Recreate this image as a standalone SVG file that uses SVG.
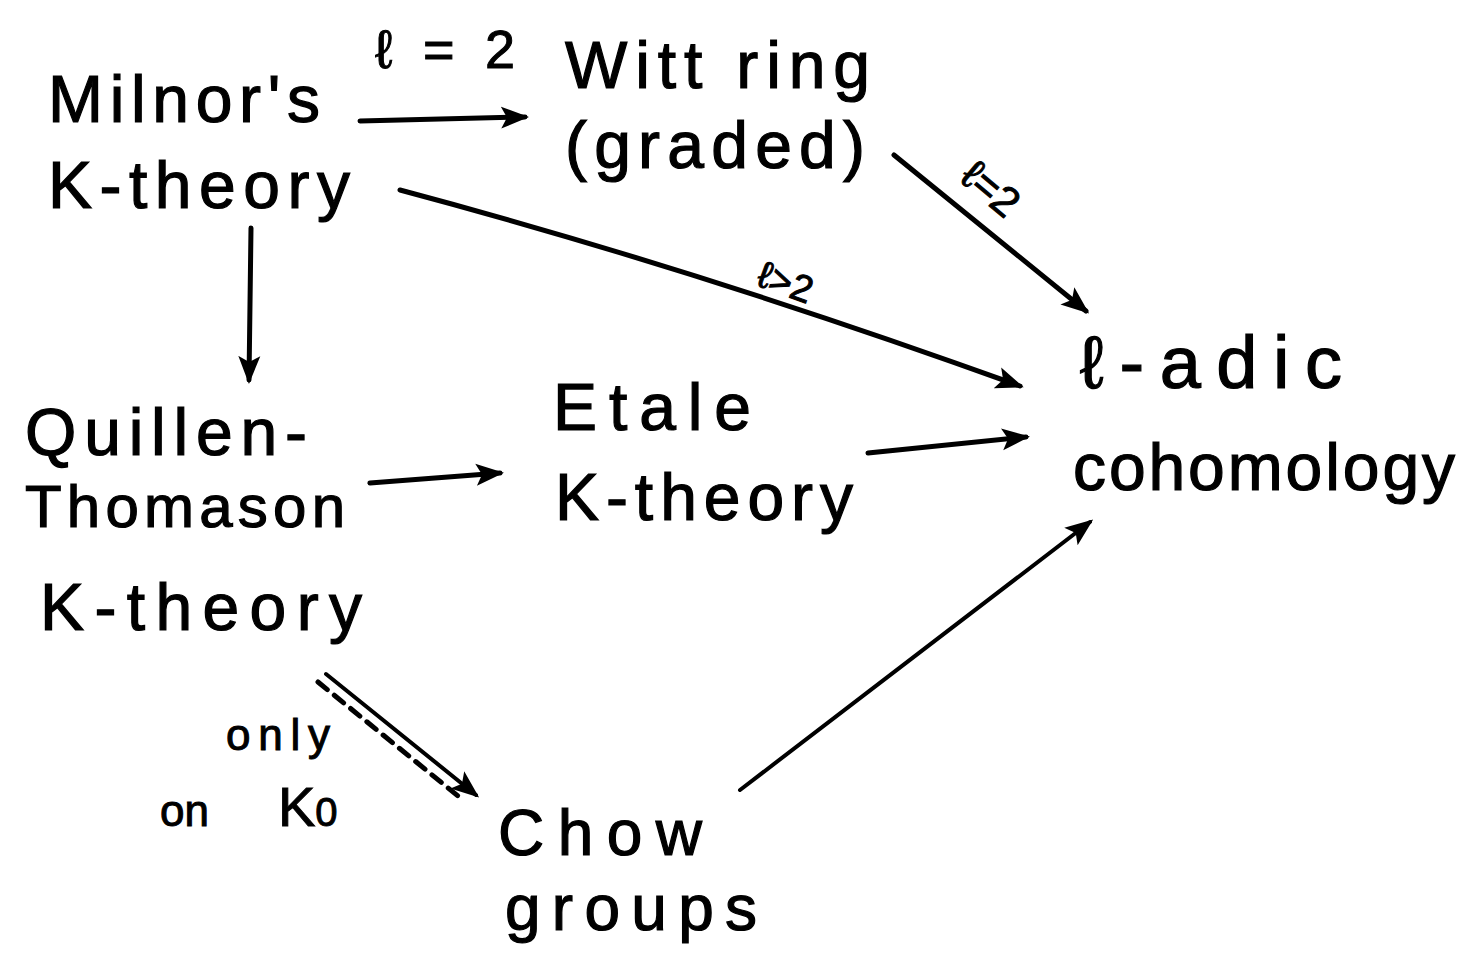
<svg xmlns="http://www.w3.org/2000/svg" width="1476" height="973" viewBox="0 0 1476 973">
  <style>
    .t { font-family: "Liberation Sans", "DejaVu Sans", sans-serif; fill: #000; stroke: #000; stroke-width: 1.2px; font-size: 66px; }
    .lab { font-family: "Liberation Sans", "DejaVu Sans", sans-serif; fill: #000; stroke: #000; stroke-width: 1px; font-size: 44px; }
    .edge { stroke: #000; stroke-width: 5; fill: none; stroke-linecap: round; marker-end: url(#head); }
    .thin { stroke-width: 4; }
    .dash { stroke: #000; stroke-width: 5; fill: none; stroke-dasharray: 12 9; stroke-linecap: round; }
  </style>
  <defs>
    <marker id="head" markerUnits="userSpaceOnUse" markerWidth="28" markerHeight="24" viewBox="0 0 28 24" refX="24" refY="12" orient="auto">
      <path d="M0,1 L28,12 L0,23 L6,12 Z" fill="#000"/>
    </marker>
  </defs>
  <rect width="1476" height="973" fill="#fff"/>

  <!-- connectors and their labels -->
  <g id="connectors">
    <path class="edge" d="M360,121 L525,117"/>
    <path class="edge" d="M894,155 L1086,311"/>
    <path class="edge" d="M400,190 Q700,270 1020,386"/>
    <path class="edge" d="M251,228 L249,380"/>
    <path class="edge" d="M370,483 L500,473"/>
    <path class="edge" d="M868,453 L1026,437"/>
    <path class="edge thin" d="M740,790 L1090,522"/>
    <path class="edge thin" d="M326,674 L476,795"/>
    <path class="dash" d="M318,682 L458,796"/>
    <text class="lab" x="375" y="68" style="font-size:54px" textLength="140" lengthAdjust="spacing">ℓ = 2</text>
    <text class="lab" transform="translate(958,180) rotate(40)" style="font-size:42px">ℓ=2</text>
    <text class="lab" transform="translate(755,285) rotate(20)" style="font-size:38px">ℓ&gt;2</text>
    <text class="lab" x="226" y="750" textLength="104" lengthAdjust="spacing">only</text>
    <text class="lab" x="160" y="826">on</text>
    <text class="lab" x="278" y="826" style="font-size:56px">K<tspan style="font-size:40px">0</tspan></text>
  </g>

  <g id="milnor">
    <text class="t" x="48" y="122" textLength="272" lengthAdjust="spacing">Milnor's</text>
    <text class="t" x="48" y="208" textLength="302" lengthAdjust="spacing">K-theory</text>
  </g>

  <g id="witt">
    <text class="t" x="565" y="88" textLength="305" lengthAdjust="spacing">Witt ring</text>
    <text class="t" x="565" y="168" textLength="300" lengthAdjust="spacing">(graded)</text>
  </g>

  <g id="quillen">
    <text class="t" x="25" y="455" textLength="282" lengthAdjust="spacing">Quillen-</text>
    <text class="t" x="25" y="527" style="font-size:60px" textLength="320" lengthAdjust="spacing">Thomason</text>
    <text class="t" x="40" y="630" textLength="322" lengthAdjust="spacing">K-theory</text>
  </g>

  <g id="etale">
    <text class="t" x="553" y="430" textLength="198" lengthAdjust="spacing">Etale</text>
    <text class="t" x="555" y="520" textLength="298" lengthAdjust="spacing">K-theory</text>
  </g>

  <g id="ladic">
    <text class="t" x="1080" y="388" style="font-size:74px" textLength="262" lengthAdjust="spacing">ℓ-adic</text>
    <text class="t" x="1073" y="490" textLength="382" lengthAdjust="spacing">cohomology</text>
  </g>

  <g id="chow">
    <text class="t" x="498" y="855" style="font-size:64px" textLength="204" lengthAdjust="spacing">Chow</text>
    <text class="t" x="505" y="930" style="font-size:64px" textLength="252" lengthAdjust="spacing">groups</text>
  </g>
</svg>
